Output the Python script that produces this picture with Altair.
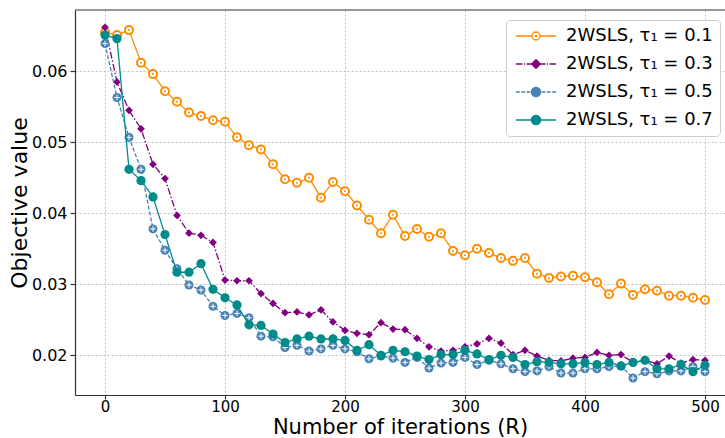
import altair as alt
import pandas as pd

iterations = list(range(0, 510, 10))

tau01 = [0.0655, 0.0651, 0.0658, 0.0612, 0.0596, 0.0572, 0.0557, 0.0542, 0.0537, 0.0531,
         0.0529, 0.0507, 0.0496, 0.0490, 0.0469, 0.0448, 0.0443, 0.0450, 0.0422, 0.0444,
         0.0431, 0.0411, 0.0391, 0.0372, 0.0398, 0.0368, 0.0378, 0.0367, 0.0372, 0.0347,
         0.0341, 0.0350, 0.0344, 0.0337, 0.0333, 0.0337, 0.0315, 0.0309, 0.0311, 0.0312,
         0.0310, 0.0303, 0.0286, 0.0301, 0.0285, 0.0293, 0.0291, 0.0284, 0.0284, 0.0281,
         0.0278]
tau03 = [0.0662, 0.0585, 0.0545, 0.0519, 0.0469, 0.0449, 0.0397, 0.0372, 0.0369, 0.0359,
         0.0306, 0.0305, 0.0305, 0.0287, 0.0273, 0.0260, 0.0261, 0.0257, 0.0264, 0.0247,
         0.0235, 0.0231, 0.0229, 0.0246, 0.0237, 0.0236, 0.0224, 0.0212, 0.0206, 0.0207,
         0.0212, 0.0216, 0.0224, 0.0217, 0.0201, 0.0207, 0.0199, 0.0193, 0.0192, 0.0196,
         0.0197, 0.0204, 0.0200, 0.0201, 0.0190, 0.0193, 0.0188, 0.0199, 0.0189, 0.0194,
         0.0193]
tau05 = [0.0639, 0.0563, 0.0507, 0.0462, 0.0378, 0.0348, 0.0322, 0.0299, 0.0292, 0.0269,
         0.0256, 0.0259, 0.0253, 0.0227, 0.0226, 0.0211, 0.0214, 0.0206, 0.0209, 0.0214,
         0.0209, 0.0205, 0.0195, 0.0199, 0.0196, 0.0190, 0.0197, 0.0182, 0.0189, 0.0190,
         0.0197, 0.0187, 0.0193, 0.0188, 0.0181, 0.0177, 0.0178, 0.0184, 0.0175, 0.0175,
         0.0181, 0.0181, 0.0184, 0.0185, 0.0168, 0.0177, 0.0174, 0.0178, 0.0178, 0.0184,
         0.0177]
tau07 = [0.0651, 0.0646, 0.0462, 0.0446, 0.0423, 0.0370, 0.0317, 0.0317, 0.0329, 0.0293,
         0.0281, 0.0271, 0.0243, 0.0242, 0.0230, 0.0218, 0.0223, 0.0227, 0.0223, 0.0223,
         0.0221, 0.0207, 0.0215, 0.0200, 0.0207, 0.0205, 0.0199, 0.0194, 0.0201, 0.0201,
         0.0207, 0.0202, 0.0194, 0.0200, 0.0197, 0.0187, 0.0191, 0.0190, 0.0188, 0.0188,
         0.0190, 0.0187, 0.0190, 0.0185, 0.0190, 0.0193, 0.0181, 0.0181, 0.0187, 0.0177,
         0.0186]

labels = ["2WSLS, τ₁ = 0.1", "2WSLS, τ₁ = 0.3", "2WSLS, τ₁ = 0.5", "2WSLS, τ₁ = 0.7"]
colors = ["#FF8C00", "#800080", "#4682B4", "#008B8B"]
fills = ["#ffffff", "#800080", "#4682B4", "#008B8B"]

x_ticks = [0, 100, 200, 300, 400, 500]
y_ticks = [0.02, 0.03, 0.04, 0.05, 0.06]

rows = []
for lab, vals in zip(labels, [tau01, tau03, tau05, tau07]):
    for it, v in zip(iterations, vals):
        rows.append({"iter": it, "value": v, "series": lab})
df = pd.DataFrame(rows)

X = alt.X("iter:Q",
          scale=alt.Scale(domain=[-25, 516.67], nice=False, zero=False),
          axis=alt.Axis(values=x_ticks, title="Number of iterations (R)",
                        labelPadding=0, labelFontSize=15, tickSize=4,
                        titleFontSize=21, titleY=38, titleBaseline="alphabetic"))
Y = alt.Y("value:Q",
          scale=alt.Scale(domain=[0.01441, 0.06863], nice=False, zero=False),
          axis=alt.Axis(values=y_ticks, format=".2f", title="Objective value",
                        labelPadding=3, titlePadding=0))

base = alt.Chart(df).encode(x=X, y=Y)

def sub(lab):
    return base.transform_filter(alt.datum.series == lab)

layers = []
# tau = 0.1 : solid orange, hollow circles with centre dot
layers.append(sub(labels[0]).mark_line(color=colors[0], strokeWidth=1.3))
layers.append(sub(labels[0]).mark_point(shape="circle", size=64, filled=False, fill="white",
                                        stroke=colors[0], strokeWidth=2, opacity=1))
layers.append(sub(labels[0]).mark_point(shape="circle", size=4, filled=True,
                                        color=colors[0], opacity=1))
# tau = 0.3 : dash-dot purple, diamonds
layers.append(sub(labels[1]).mark_line(color=colors[1], strokeWidth=1.3,
                                       strokeDash=[7, 2, 1.5, 2]))
layers.append(sub(labels[1]).mark_point(shape="diamond", size=60, filled=True,
                                        color=colors[1], opacity=1))
# tau = 0.5 : dashed steelblue, circles with white cross
layers.append(sub(labels[2]).mark_line(color=colors[2], strokeWidth=1.3, strokeDash=[4, 2]))
layers.append(sub(labels[2]).mark_point(shape="circle", size=81, filled=True,
                                        color=colors[2], opacity=1))
layers.append(sub(labels[2]).mark_point(shape="M-1,0H1M0,-1V1", size=30, filled=False,
                                        color="white", strokeWidth=1, opacity=1))
# tau = 0.7 : solid darkcyan, filled circles
layers.append(sub(labels[3]).mark_line(color=colors[3], strokeWidth=1.3))
layers.append(sub(labels[3]).mark_point(shape="circle", size=85, filled=True,
                                        color=colors[3], opacity=1))

def circ(r):
    return f"M{-r},0A{r},{r} 0 1,0 {r},0A{r},{r} 0 1,0 {-r},0Z"

legend_paths = [
    "M-4,0H-0.9M0.9,0H4" + circ(0.8) + circ(0.12),
    "M-4,0H-2.72M-2.4,0H-2.2M-1.88,0H-0.9M0.9,0H1.9M2.2,0H2.4M2.72,0H4"
    + "M0,-0.85L0.85,0L0,0.85L-0.85,0Z",
    "M-4,0H-3.26M-2.94,0H-2.2M-1.88,0H-1.14M1.14,0H1.88M2.2,0H2.94M3.26,0H4" + circ(0.9),
    "M-4,0H4" + circ(0.9),
]

legend_layer = base.transform_filter("false").mark_point(filled=True, opacity=1).encode(
    shape=alt.Shape("series:N", scale=alt.Scale(domain=labels, range=legend_paths),
                    title=None),
    fill=alt.Fill("series:N", scale=alt.Scale(domain=labels, range=fills), title=None),
    stroke=alt.Stroke("series:N", scale=alt.Scale(domain=labels, range=colors), title=None),
)
layers.append(legend_layer)

frame = alt.Chart(pd.DataFrame({"a": [0]})).mark_rule(color="#333333", strokeWidth=1.2).encode(
    x=alt.value(0), x2=alt.value(650), y=alt.value(0))
layers.append(frame)

chart = alt.layer(*layers).properties(
    width=650, height=385,
    padding={"left": 75, "top": 10, "right": 0, "bottom": 43},
    autosize="none",
).configure_view(stroke="transparent").configure_axis(
    domainColor="#333333", domainWidth=1.2,
    tickColor="#333333", tickSize=5, tickWidth=1.2,
    gridColor="#b0b0b0", gridDash=[2, 2], gridWidth=0.8,
    labelFont="DejaVu Sans", labelFontSize=16, labelColor="black",
    titleFont="DejaVu Sans", titleFontSize=22, titleFontWeight="normal", titleColor="black",
).configure_legend(
    orient="none", legendX=431, legendY=10,
    padding=7, fillColor="rgba(255,255,255,0.85)", strokeColor="#cccccc", cornerRadius=4,
    labelFont="DejaVu Sans", labelFontSize=18, labelColor="black",
    symbolSize=100, symbolStrokeWidth=1.5, symbolOffset=14, labelOffset=21,
    rowPadding=10, symbolOpacity=1,
)

chart.save("out.html", embed_options={"renderer": "svg", "actions": False})
